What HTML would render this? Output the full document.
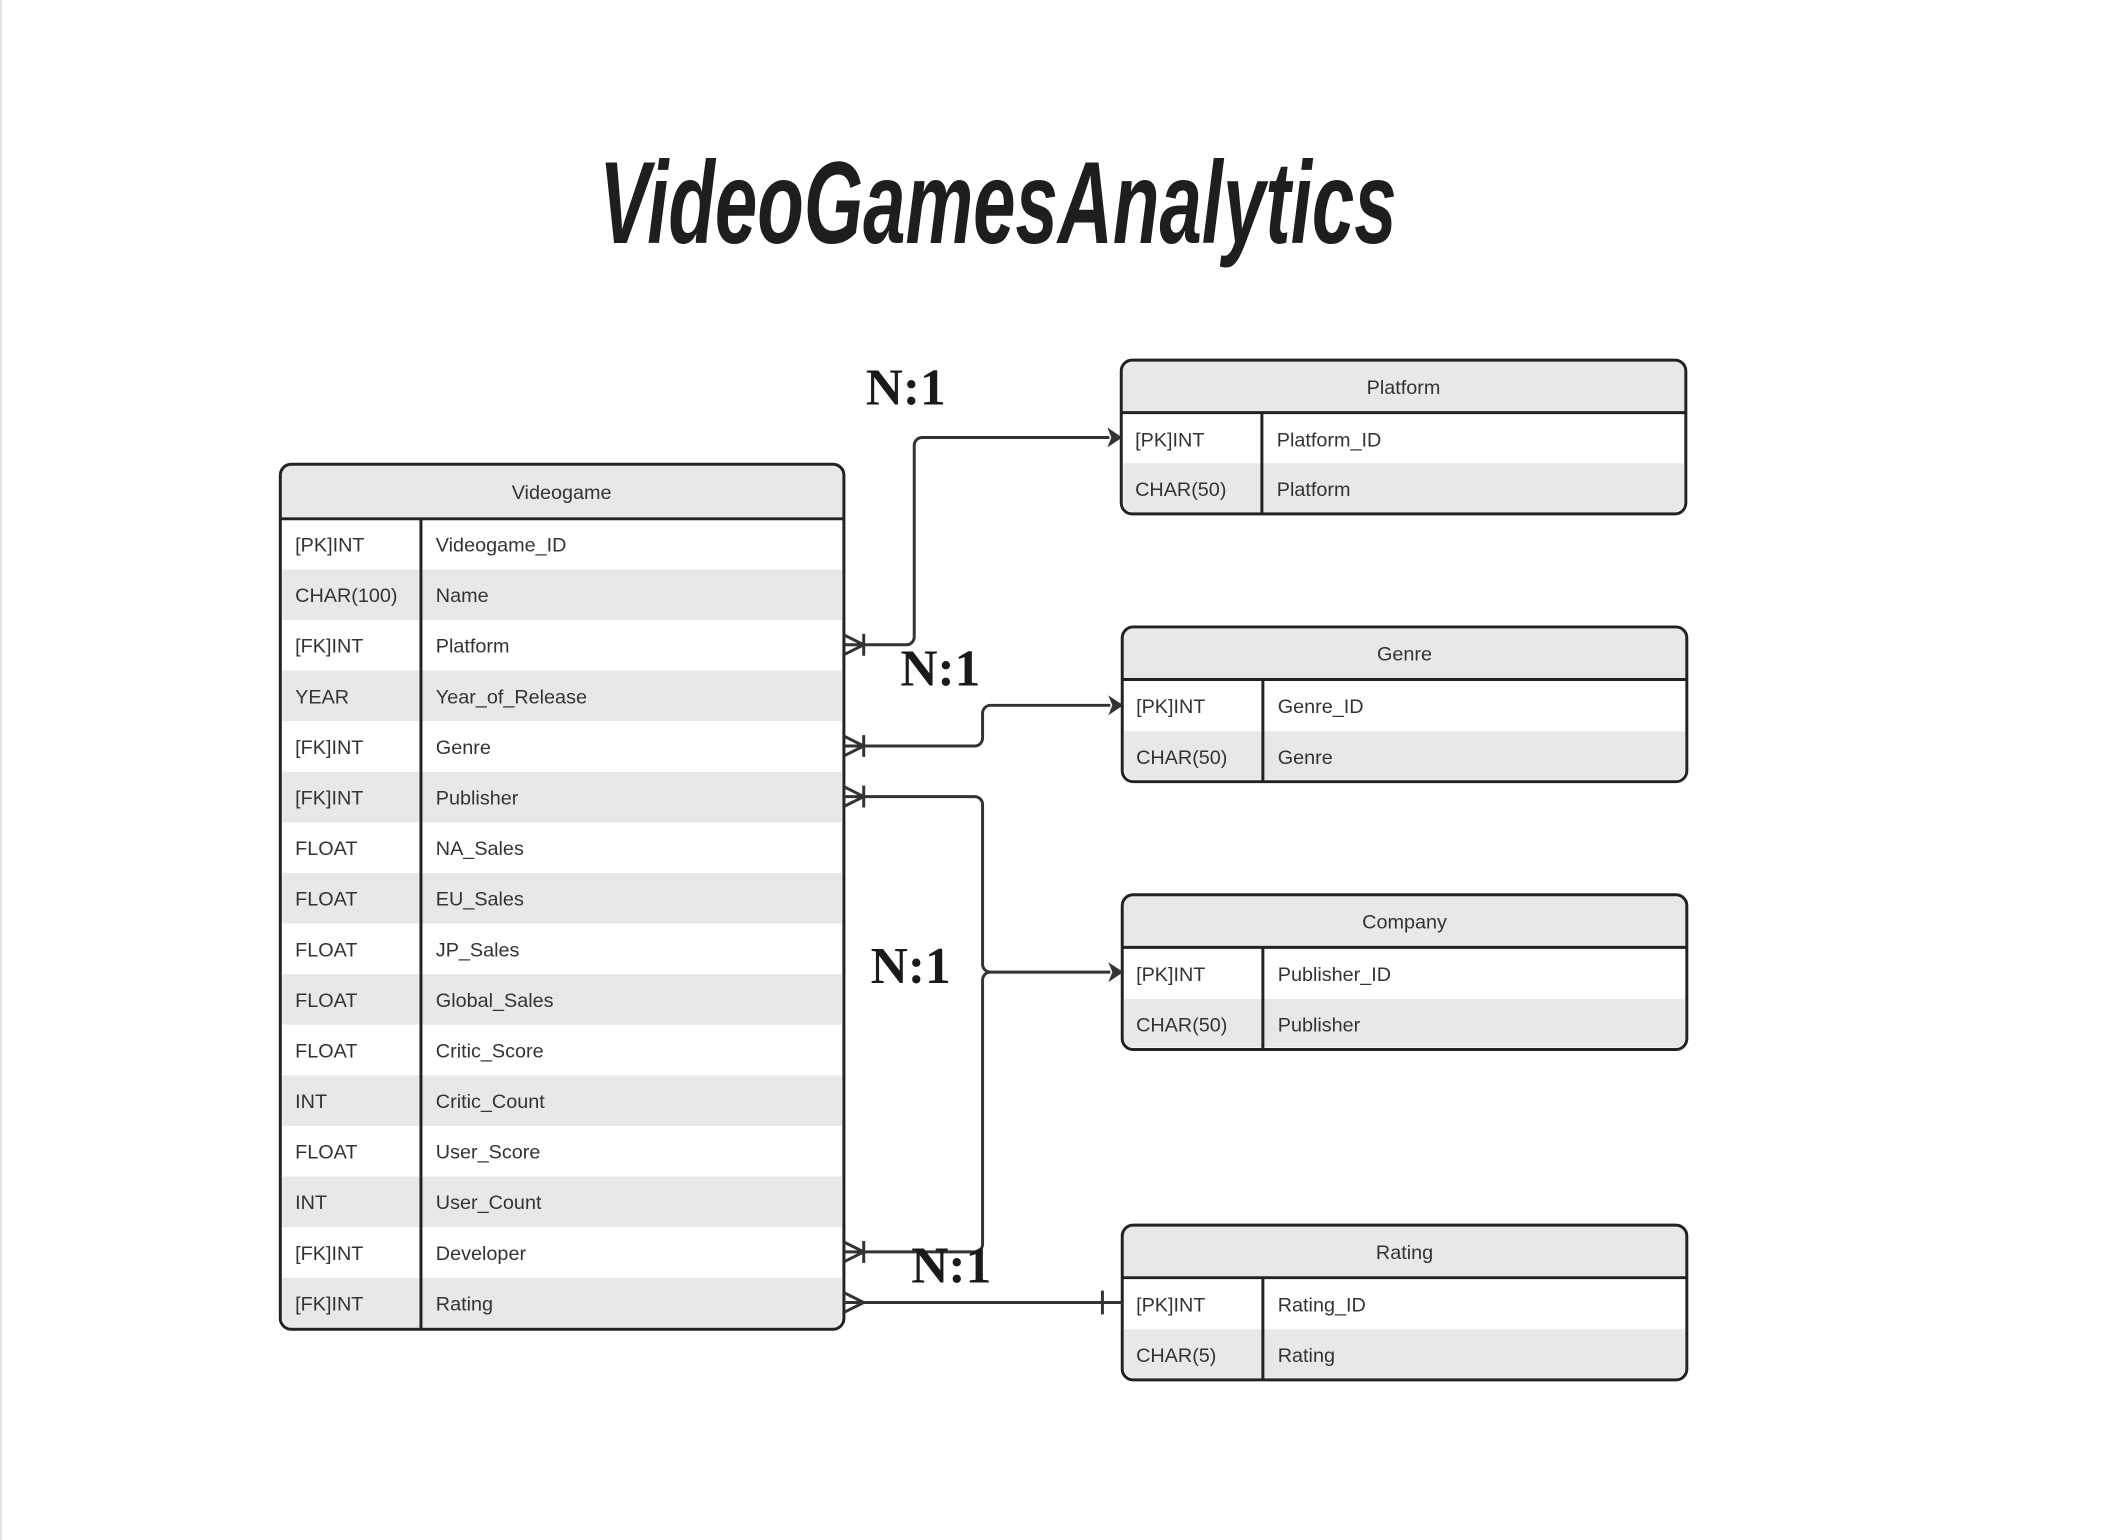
<!DOCTYPE html>
<html><head><meta charset="utf-8"><style>
html,body{margin:0;padding:0;background:#fff;}
svg{display:block;}
.s{font-family:"Liberation Sans",sans-serif;}
.n{font-family:"Liberation Serif",serif;font-weight:bold;}
</style></head><body>
<svg width="2103" height="1540" viewBox="0 0 2103 1540" xmlns="http://www.w3.org/2000/svg">
<rect x="0" y="0" width="2103" height="1540" fill="#fff"/>
<line x1="1" y1="0" x2="1" y2="1540" stroke="#e6e6e6" stroke-width="2"/>
<g transform="scale(0.9905,0.992)">
<text class="s" x="605" y="245" font-size="118" font-style="italic" font-weight="bold" fill="#1e1e1e" textLength="805" lengthAdjust="spacingAndGlyphs">VideoGamesAnalytics</text>

<g>
<rect x="283" y="468" width="569" height="872" rx="11" fill="#fff"/>
<path d="M283 523 H852 V479 a11 11 0 0 0 -11 -11 H294 a11 11 0 0 0 -11 11 Z" fill="#e8e8e8"/>
<g fill="#e8e8e8">
<rect x="285" y="574" width="565" height="51"/>
<rect x="285" y="676" width="565" height="51"/>
<rect x="285" y="778" width="565" height="51"/>
<rect x="285" y="880" width="565" height="51"/>
<rect x="285" y="982" width="565" height="51"/>
<rect x="285" y="1084" width="565" height="51"/>
<rect x="285" y="1186" width="565" height="51"/>
<path d="M285 1288 H850 V1328 a10 10 0 0 1 -10 10 H295 a10 10 0 0 1 -10 -10 Z"/>
</g>
<line x1="283" y1="523" x2="852" y2="523" stroke="#222" stroke-width="3"/>
<line x1="425" y1="523" x2="425" y2="1340" stroke="#222" stroke-width="3"/>
<rect x="283" y="468" width="569" height="872" rx="11" fill="none" stroke="#222" stroke-width="3"/>
<g class="s" font-size="20" fill="#333">
<text x="567" y="503" text-anchor="middle">Videogame</text>
<text x="298" y="556">[PK]INT</text><text x="440" y="556">Videogame_ID</text>
<text x="298" y="607">CHAR(100)</text><text x="440" y="607">Name</text>
<text x="298" y="658">[FK]INT</text><text x="440" y="658">Platform</text>
<text x="298" y="709">YEAR</text><text x="440" y="709">Year_of_Release</text>
<text x="298" y="760">[FK]INT</text><text x="440" y="760">Genre</text>
<text x="298" y="811">[FK]INT</text><text x="440" y="811">Publisher</text>
<text x="298" y="862">FLOAT</text><text x="440" y="862">NA_Sales</text>
<text x="298" y="913">FLOAT</text><text x="440" y="913">EU_Sales</text>
<text x="298" y="964">FLOAT</text><text x="440" y="964">JP_Sales</text>
<text x="298" y="1015">FLOAT</text><text x="440" y="1015">Global_Sales</text>
<text x="298" y="1066">FLOAT</text><text x="440" y="1066">Critic_Score</text>
<text x="298" y="1117">INT</text><text x="440" y="1117">Critic_Count</text>
<text x="298" y="1168">FLOAT</text><text x="440" y="1168">User_Score</text>
<text x="298" y="1219">INT</text><text x="440" y="1219">User_Count</text>
<text x="298" y="1270">[FK]INT</text><text x="440" y="1270">Developer</text>
<text x="298" y="1321">[FK]INT</text><text x="440" y="1321">Rating</text>
</g>
</g>

<g class="s" font-size="20" fill="#333">
<rect x="1132" y="363" width="570" height="155" rx="11" fill="#fff"/>
<path d="M1132 416 H1702 V374 a11 11 0 0 0 -11 -11 H1143 a11 11 0 0 0 -11 11 Z" fill="#e8e8e8"/>
<path d="M1134 467 H1700 V506 a10 10 0 0 1 -10 10 H1144 a10 10 0 0 1 -10 -10 Z" fill="#e8e8e8"/>
<line x1="1132" y1="416" x2="1702" y2="416" stroke="#222" stroke-width="3"/>
<line x1="1274" y1="416" x2="1274" y2="518" stroke="#222" stroke-width="3"/>
<rect x="1132" y="363" width="570" height="155" rx="11" fill="none" stroke="#222" stroke-width="3"/>
<text x="1417" y="397" text-anchor="middle">Platform</text>
<text x="1146" y="450">[PK]INT</text><text x="1289" y="450">Platform_ID</text>
<text x="1146" y="500">CHAR(50)</text><text x="1289" y="500">Platform</text>

<rect x="1133" y="632" width="570" height="156" rx="11" fill="#fff"/>
<path d="M1133 685 H1703 V643 a11 11 0 0 0 -11 -11 H1144 a11 11 0 0 0 -11 11 Z" fill="#e8e8e8"/>
<path d="M1135 737 H1701 V776 a10 10 0 0 1 -10 10 H1145 a10 10 0 0 1 -10 -10 Z" fill="#e8e8e8"/>
<line x1="1133" y1="685" x2="1703" y2="685" stroke="#222" stroke-width="3"/>
<line x1="1275" y1="685" x2="1275" y2="788" stroke="#222" stroke-width="3"/>
<rect x="1133" y="632" width="570" height="156" rx="11" fill="none" stroke="#222" stroke-width="3"/>
<text x="1418" y="666" text-anchor="middle">Genre</text>
<text x="1147" y="719">[PK]INT</text><text x="1290" y="719">Genre_ID</text>
<text x="1147" y="770">CHAR(50)</text><text x="1290" y="770">Genre</text>

<rect x="1133" y="902" width="570" height="156" rx="11" fill="#fff"/>
<path d="M1133 955 H1703 V913 a11 11 0 0 0 -11 -11 H1144 a11 11 0 0 0 -11 11 Z" fill="#e8e8e8"/>
<path d="M1135 1007 H1701 V1046 a10 10 0 0 1 -10 10 H1145 a10 10 0 0 1 -10 -10 Z" fill="#e8e8e8"/>
<line x1="1133" y1="955" x2="1703" y2="955" stroke="#222" stroke-width="3"/>
<line x1="1275" y1="955" x2="1275" y2="1058" stroke="#222" stroke-width="3"/>
<rect x="1133" y="902" width="570" height="156" rx="11" fill="none" stroke="#222" stroke-width="3"/>
<text x="1418" y="936" text-anchor="middle">Company</text>
<text x="1147" y="989">[PK]INT</text><text x="1290" y="989">Publisher_ID</text>
<text x="1147" y="1040">CHAR(50)</text><text x="1290" y="1040">Publisher</text>

<rect x="1133" y="1235" width="570" height="156" rx="11" fill="#fff"/>
<path d="M1133 1288 H1703 V1246 a11 11 0 0 0 -11 -11 H1144 a11 11 0 0 0 -11 11 Z" fill="#e8e8e8"/>
<path d="M1135 1340 H1701 V1379 a10 10 0 0 1 -10 10 H1145 a10 10 0 0 1 -10 -10 Z" fill="#e8e8e8"/>
<line x1="1133" y1="1288" x2="1703" y2="1288" stroke="#222" stroke-width="3"/>
<line x1="1275" y1="1288" x2="1275" y2="1391" stroke="#222" stroke-width="3"/>
<rect x="1133" y="1235" width="570" height="156" rx="11" fill="none" stroke="#222" stroke-width="3"/>
<text x="1418" y="1269" text-anchor="middle">Rating</text>
<text x="1147" y="1322">[PK]INT</text><text x="1290" y="1322">Rating_ID</text>
<text x="1147" y="1373">CHAR(5)</text><text x="1290" y="1373">Rating</text>
</g>

<g fill="none" stroke="#333" stroke-width="3">
<path d="M852 650 H915 a8 8 0 0 0 8 -8 V449 a8 8 0 0 1 8 -8 H1120"/>
<path d="M852 752 H984 a8 8 0 0 0 8 -8 V719 a8 8 0 0 1 8 -8 H1121"/>
<path d="M852 803 H984 a8 8 0 0 1 8 8 V972 a8 8 0 0 0 8 8 H1121"/>
<path d="M852 1262 H984 a8 8 0 0 0 8 -8 V988 a8 8 0 0 1 8 -8"/>
<path d="M852 1313 H1133"/>
<line x1="1113" y1="1301" x2="1113" y2="1325"/>
<path d="M852 640 L872 650 L852 660 M872 639 V661"/>
<path d="M852 742 L872 752 L852 762 M872 741 V763"/>
<path d="M852 793 L872 803 L852 813 M872 792 V814"/>
<path d="M852 1252 L872 1262 L852 1272 M872 1251 V1273"/>
<path d="M852 1303 L872 1313 L852 1323"/>
</g>
<g fill="#333">
<path d="M1118 431 L1133 441 L1118 451 L1122 441 Z"/>
<path d="M1119 701 L1134 711 L1119 721 L1123 711 Z"/>
<path d="M1119 970 L1134 980 L1119 990 L1123 980 Z"/>
</g>

<g class="n" font-size="52" fill="#1a1a1a">
<text x="874" y="408">N:1</text>
<text x="909" y="691">N:1</text>
<text x="879" y="991">N:1</text>
<text x="920" y="1293">N:1</text>
</g>
</g>
</svg>
</body></html>
